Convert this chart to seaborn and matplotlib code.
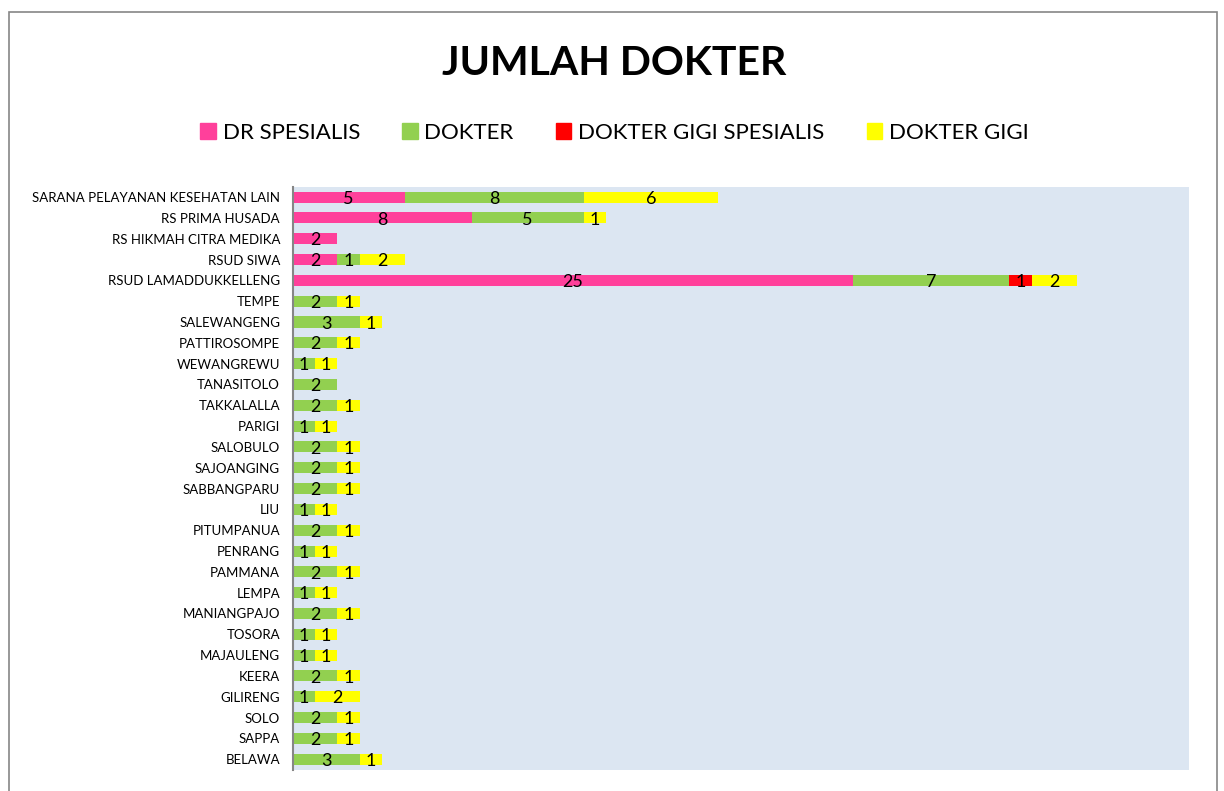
import numpy as np
import pandas as pd
import matplotlib
matplotlib.use("Agg")
import matplotlib.pyplot as plt
import matplotlib.patches as mpatches
import seaborn as sns

# data, top to bottom as in the chart
categories = [
    "SARANA PELAYANAN KESEHATAN LAIN", "RS PRIMA HUSADA", "RS HIKMAH CITRA MEDIKA",
    "RSUD SIWA", "RSUD LAMADDUKKELLENG", "TEMPE", "SALEWANGENG", "PATTIROSOMPE",
    "WEWANGREWU", "TANASITOLO", "TAKKALALLA", "PARIGI", "SALOBULO", "SAJOANGING",
    "SABBANGPARU", "LIU", "PITUMPANUA", "PENRANG", "PAMMANA", "LEMPA",
    "MANIANGPAJO", "TOSORA", "MAJAULENG", "KEERA", "GILIRENG", "SOLO", "SAPPA", "BELAWA",
]
dr_spesialis = [5, 8, 2, 2, 25, 0, 0, 0, 0, 0, 0, 0, 0, 0, 0, 0, 0, 0, 0, 0, 0, 0, 0, 0, 0, 0, 0, 0]
dokter = [8, 5, 0, 1, 7, 2, 3, 2, 1, 2, 2, 1, 2, 2, 2, 1, 2, 1, 2, 1, 2, 1, 1, 2, 1, 2, 2, 3]
dokter_gigi_spesialis = [0, 0, 0, 0, 1, 0, 0, 0, 0, 0, 0, 0, 0, 0, 0, 0, 0, 0, 0, 0, 0, 0, 0, 0, 0, 0, 0, 0]
dokter_gigi = [6, 1, 0, 2, 2, 1, 1, 1, 1, 0, 1, 1, 1, 1, 1, 1, 1, 1, 1, 1, 1, 1, 1, 1, 2, 1, 1, 1]

series_names = ["DR SPESIALIS", "DOKTER", "DOKTER GIGI SPESIALIS", "DOKTER GIGI"]
series_colors = ["#FF409B", "#92D050", "#FF0000", "#FFFF00"]

df = pd.DataFrame({
    "kategori": categories,
    "DR SPESIALIS": dr_spesialis,
    "DOKTER": dokter,
    "DOKTER GIGI SPESIALIS": dokter_gigi_spesialis,
    "DOKTER GIGI": dokter_gigi,
})
cum = df[series_names].cumsum(axis=1)

sns.set_style("white")
plt.rcParams["font.family"] = ["Lato", "DejaVu Sans"]
plt.rcParams["text.color"] = "black"
plt.rcParams["ytick.color"] = "black"

fig = plt.figure(figsize=(12.24, 7.91), dpi=100)
ax = fig.add_axes([0.239, 0.027, 0.732, 0.737])
ax.set_facecolor("#DCE6F2")

# stacked bars: draw cumulative totals from the outermost layer inwards
for name, color in reversed(list(zip(series_names, series_colors))):
    sns.barplot(data=cum.assign(kategori=df["kategori"]), x=name, y="kategori",
                orient="h", color=color, width=0.53, saturation=1, ax=ax,
                linewidth=0)

# segment labels
for i in range(len(categories)):
    left = 0
    for name in series_names:
        v = df.loc[i, name]
        if v > 0:
            ax.text(left + v / 2, i + 0.08, str(v), ha="center", va="center",
                    fontsize=13, color="black")
        left += v

ax.set_xlim(0, 40)
ax.set_xlabel("")
ax.set_ylabel("")
ax.set_xticks([])
ax.tick_params(axis="y", length=0, labelsize=9.5, pad=9)
for s in ["top", "right", "bottom"]:
    ax.spines[s].set_visible(False)
ax.spines["left"].set_color("#868686")
ax.spines["left"].set_linewidth(1.5)

fig.text(0.502, 0.92, "JUMLAH DOKTER", ha="center", va="center",
         fontsize=29.5, fontweight="bold", color="black")

handles = [mpatches.Patch(color=c, label=n) for n, c in zip(series_names, series_colors)]
fig.legend(handles=handles, loc="center", bbox_to_anchor=(0.502, 0.832), ncol=4,
           frameon=False, fontsize=16, handlelength=0.7, handleheight=0.7,
           handletextpad=0.3, columnspacing=1.9)

# outer chart border
fig.patches.append(mpatches.Rectangle((0.007, -0.01), 0.987, 0.995, transform=fig.transFigure,
                                      fill=False, edgecolor="#868686", linewidth=1.2))

fig.savefig("out.png", dpi=100)
